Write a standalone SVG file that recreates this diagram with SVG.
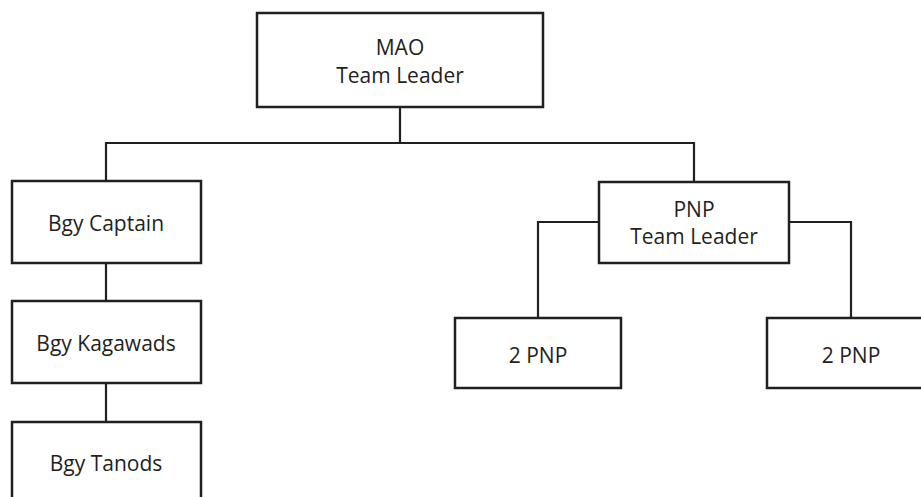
<svg xmlns="http://www.w3.org/2000/svg" width="921" height="497" viewBox="0 0 921 497">
<style>
.box{fill:#fff;stroke:#231f20;stroke-width:2.5}
.ln{fill:none;stroke:#231f20;stroke-width:2.2}
text{font-family:"Open Sans","Noto Sans",sans-serif;font-size:21px;fill:#231f20;text-anchor:middle}
</style>
<rect width="921" height="497" fill="#fff"/>
<g id="connectors">
<path class="ln" d="M400 107V143M106 181V143H694V181"/>
<path class="ln" d="M106 263V301M106 383V422"/>
<path class="ln" d="M599 222H538V318M789 222H851V318"/>
</g>
<g id="mao"><rect class="box" x="257" y="13" width="286" height="94"/><text x="400" y="55">MAO</text><text x="400" y="83">Team Leader</text></g>
<g id="captain"><rect class="box" x="12" y="181" width="189" height="82"/><text x="106" y="231">Bgy Captain</text></g>
<g id="kagawads"><rect class="box" x="12" y="301" width="189" height="82"/><text x="106" y="351">Bgy Kagawads</text></g>
<g id="tanods"><path class="box" d="M12 500V422H201V500"/><text x="106" y="471">Bgy Tanods</text></g>
<g id="pnp"><rect class="box" x="599" y="182" width="190" height="81"/><text x="694" y="217">PNP</text><text x="694" y="244">Team Leader</text></g>
<g id="pnp2a"><rect class="box" x="455" y="318" width="166" height="70"/><text x="538" y="363">2 PNP</text></g>
<g id="pnp2b"><path class="box" d="M925 318H767V388H925"/><text x="851" y="363">2 PNP</text></g>
</svg>
